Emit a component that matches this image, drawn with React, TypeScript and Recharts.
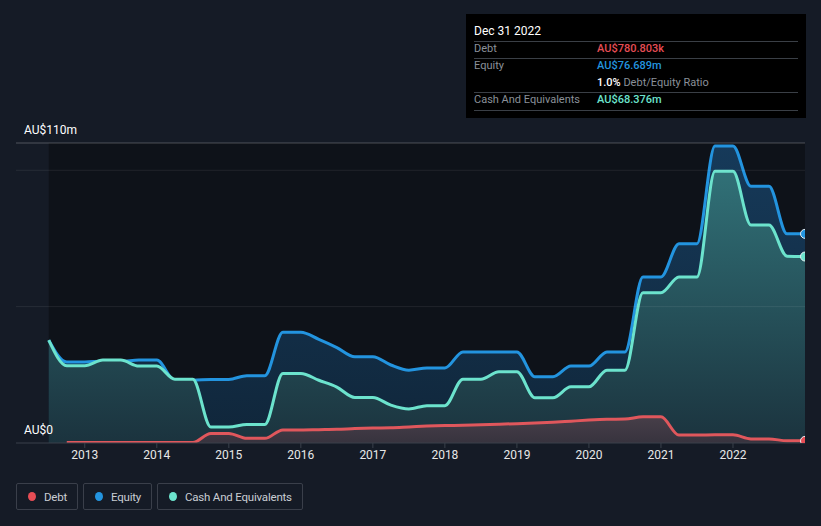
import React from 'react';
import { ComposedChart, Area, XAxis, YAxis, ReferenceLine, ReferenceArea } from 'recharts';

const times = [
  2012.5, 2012.75, 2013.0, 2013.25, 2013.5, 2013.75, 2014.0, 2014.25, 2014.5, 2014.75,
  2015.0, 2015.25, 2015.5, 2015.75, 2016.0, 2016.25, 2016.5, 2016.75, 2017.0, 2017.25,
  2017.5, 2017.75, 2018.0, 2018.25, 2018.5, 2018.75, 2019.0, 2019.25, 2019.5, 2019.75,
  2020.0, 2020.25, 2020.5, 2020.75, 2021.0, 2021.25, 2021.5, 2021.75, 2022.0, 2022.25,
  2022.5, 2022.75, 2023.0,
];

const equity = [
  37.7, 29.7, 29.7, 30.0, 30.0, 30.4, 30.4, 23.0, 23.0, 23.3,
  23.3, 24.7, 24.7, 40.6, 40.6, 38.0, 35.0, 31.6, 31.6, 28.6,
  26.7, 27.5, 27.5, 33.4, 33.4, 33.4, 33.4, 24.3, 24.3, 28.2,
  28.2, 33.4, 33.4, 60.9, 60.9, 73.1, 73.1, 108.9, 108.9, 94.1,
  94.1, 76.7, 76.689,
];

const cash = [
  37.7, 28.3, 28.3, 30.4, 30.4, 28.2, 28.2, 23.4, 23.4, 5.9,
  5.9, 6.8, 6.8, 25.5, 25.5, 23.0, 20.5, 16.7, 16.7, 13.9,
  12.5, 13.7, 13.7, 23.4, 23.4, 26.1, 26.1, 16.6, 16.6, 20.6,
  20.6, 26.7, 26.7, 55.1, 55.1, 60.9, 60.9, 99.6, 99.6, 79.9,
  79.9, 68.5, 68.376,
];

const debt: (number | null)[] = [
  null, 0.2, 0.2, 0.2, 0.2, 0.2, 0.2, 0.2, 0.2, 3.5,
  3.5, 1.7, 1.7, 4.8, 4.8, 4.9, 5.0, 5.3, 5.5, 5.6,
  5.9, 6.2, 6.4, 6.5, 6.7, 6.9, 7.1, 7.3, 7.6, 8.0,
  8.4, 8.7, 8.8, 9.6, 9.6, 2.9, 2.9, 3.0, 3.0, 1.5,
  1.5, 0.8, 0.781,
];

const yearTicks = [2013, 2014, 2015, 2016, 2017, 2018, 2019, 2020, 2021, 2022];
const yTopLabel = 'AU$110m';
const yZeroLabel = 'AU$0';

const data = times.map((t, i) => ({ t, equity: equity[i], cash: cash[i], debt: debt[i] }));

const BG = '#151b26';
const FONT = 'Roboto, "Noto Sans", sans-serif';
const lastIndex = times.length - 1;

const endDot = (color: string) => (props: any) => {
  if (props.index !== lastIndex || props.cx == null || props.cy == null) return <g key={props.index} />;
  return <circle key={props.index} cx={props.cx} cy={props.cy} r={4.5} fill={color} stroke="#e8eef2" strokeWidth={1} />;
};

const RefLabel = (props: any) => {
  const vb = props.viewBox || {};
  return (
    <text x={24} y={(vb.y ?? 0) - 12} fill="#ffffff" fontSize={12} fontFamily={FONT} dominantBaseline="middle">
      {props.text}
    </text>
  );
};

const legendItems = [
  { name: 'Debt', color: '#e64d55', left: 16, width: 62 },
  { name: 'Equity', color: '#2394df', left: 83, width: 69 },
  { name: 'Cash And Equivalents', color: '#6ce3cd', left: 157, width: 146 },
];

export default function App() {
  return (
    <div style={{ position: 'fixed', left: 0, top: 0, width: 821, height: 526, background: BG, overflow: 'hidden', fontFamily: FONT }}>
      <ComposedChart width={821} height={526} data={data} margin={{ top: 143, right: 16, bottom: 53, left: 16 }}>
        <defs>
          <linearGradient id="gEq" x1="0" y1="143" x2="0" y2="443" gradientUnits="userSpaceOnUse">
            <stop offset="0%" stopColor="#163a5a" />
            <stop offset="100%" stopColor="#10263a" />
          </linearGradient>
          <linearGradient id="gCash" x1="0" y1="143" x2="0" y2="443" gradientUnits="userSpaceOnUse">
            <stop offset="0%" stopColor="#33777d" />
            <stop offset="100%" stopColor="#1b333e" />
          </linearGradient>
          <linearGradient id="gDebt" x1="0" y1="400" x2="0" y2="443" gradientUnits="userSpaceOnUse">
            <stop offset="0%" stopColor="#524650" />
            <stop offset="100%" stopColor="#37333e" />
          </linearGradient>
        </defs>
        <XAxis
          type="number"
          dataKey="t"
          domain={[2012.045, 2023]}
          ticks={yearTicks}
          allowDataOverflow
          height={30}
          stroke="#3a404b"
          tickSize={5}
          tick={{ fill: '#e8e8e8', fontSize: 12, fontFamily: FONT }}
          tickLine={{ stroke: '#3a404b' }}
          axisLine={{ stroke: '#3a404b' }}
        />
        <YAxis domain={[0, 110]} allowDataOverflow hide />
        <ReferenceArea x1={2012.5} x2={2023} y1={0} y2={110} fill="#0e1219" fillOpacity={1} stroke="none" ifOverflow="hidden" />
        <Area type="monotone" dataKey="equity" stroke="#2394df" strokeWidth={3} fill="url(#gEq)" fillOpacity={1} isAnimationActive={false} dot={endDot('#2394df')} activeDot={false} />
        <Area type="monotone" dataKey="cash" stroke="#6ce3cd" strokeWidth={3} fill="url(#gCash)" fillOpacity={1} isAnimationActive={false} dot={endDot('#6ce3cd')} activeDot={false} />
        <Area type="monotone" dataKey="debt" stroke="#e0575c" strokeWidth={3} fill="url(#gDebt)" fillOpacity={1} isAnimationActive={false} dot={endDot('#e64d55')} activeDot={false} />
        <ReferenceLine y={50} stroke="#ffffff" strokeOpacity={0.08} strokeWidth={1} />
        <ReferenceLine y={100} stroke="#ffffff" strokeOpacity={0.08} strokeWidth={1} />
        <ReferenceLine y={110} stroke="#ffffff" strokeOpacity={0.25} strokeWidth={1} label={<RefLabel text={yTopLabel} />} />
        <ReferenceLine y={0} stroke="none" label={<RefLabel text={yZeroLabel} />} />
      </ComposedChart>

      <div style={{ position: 'absolute', left: 466, top: 14, width: 340, height: 104, background: '#000000', fontSize: 11, color: '#8a9099' }}>
        <div style={{ position: 'absolute', left: 8, top: 10, color: '#ffffff', fontSize: 12 }}>Dec 31 2022</div>
        <div style={{ position: 'absolute', left: 8, right: 8, top: 27, borderTop: '1px solid #3a3f46' }} />
        <div style={{ position: 'absolute', left: 8, top: 28 }}>Debt</div>
        <div style={{ position: 'absolute', left: 131, top: 28, color: '#e64d55', fontWeight: 500 }}>AU$780.803k</div>
        <div style={{ position: 'absolute', left: 8, right: 8, top: 44, borderTop: '1px solid #3a3f46' }} />
        <div style={{ position: 'absolute', left: 8, top: 45 }}>Equity</div>
        <div style={{ position: 'absolute', left: 131, top: 45, color: '#2394df', fontWeight: 500 }}>AU$76.689m</div>
        <div style={{ position: 'absolute', left: 131, top: 62 }}><span style={{ color: '#ffffff', fontWeight: 500 }}>1.0%</span> Debt/Equity Ratio</div>
        <div style={{ position: 'absolute', left: 8, right: 8, top: 78, borderTop: '1px solid #3a3f46' }} />
        <div style={{ position: 'absolute', left: 8, top: 79 }}>Cash And Equivalents</div>
        <div style={{ position: 'absolute', left: 131, top: 79, color: '#6ce3cd', fontWeight: 500 }}>AU$68.376m</div>
        <div style={{ position: 'absolute', left: 8, right: 8, top: 96, borderTop: '1px solid #3a3f46' }} />
      </div>

      {legendItems.map((it) => (
        <div key={it.name} style={{ position: 'absolute', left: it.left, top: 483, width: it.width, height: 27, boxSizing: 'border-box', border: '1px solid #3a3f4a', borderRadius: 2, display: 'flex', alignItems: 'center', paddingLeft: 11, color: '#c9cdd3', fontSize: 11.5, letterSpacing: -0.2, whiteSpace: 'nowrap' }}>
          <span style={{ display: 'inline-block', width: 8, height: 9, borderRadius: '50%', background: it.color, marginRight: 8, flexShrink: 0 }} />
          {it.name}
        </div>
      ))}
    </div>
  );
}
